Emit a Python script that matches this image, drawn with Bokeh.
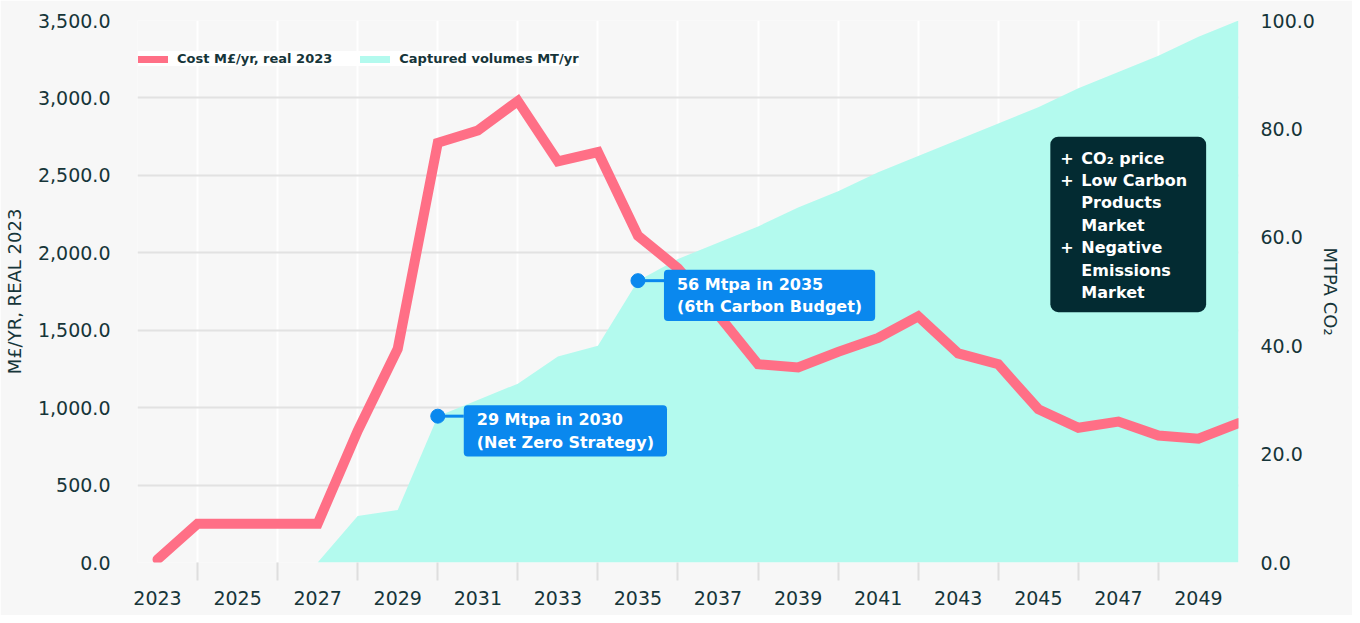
import math
from bokeh.plotting import figure
from bokeh.models import (Range1d, LinearAxis, FixedTicker, NumeralTickFormatter,
                          Legend, LegendItem, Label)
from bokeh.embed import file_html
from bokeh.resources import INLINE

# ---------------- data ----------------
years = list(range(2023, 2051))
cost_m_gbp = [20, 250, 250, 250, 250, 850, 1380, 2710, 2790, 2980, 2590, 2650, 2110, 1900,
              1600, 1280, 1260, 1360, 1450, 1590, 1350, 1280, 990, 870, 910, 820, 800, 900]
captured_mt = [0, 0, 0, 0, 0, 8.6, 9.7, 27, 30, 33, 38, 40, 52, 56,
               59, 62, 65.5, 68.5, 72, 75, 78, 81, 84, 87.5, 90.5, 93.5, 97, 100]
x_label_years = list(range(2023, 2050, 2))
x_tick_years = list(range(2024, 2050, 2))
left_ticks = list(range(0, 3501, 500))
right_ticks = list(range(0, 101, 20))
callout_years = [2030, 2035]
callout_texts = ["29 Mtpa in 2030\n(Net Zero Strategy)", "56 Mtpa in 2035\n(6th Carbon Budget)"]
box_text = "CO\u2082 price\nLow Carbon\nProducts\nMarket\nNegative\nEmissions\nMarket"
bullets = "+\n+\n \n \n+\n \n "

# ---------------- style ----------------
BG = "#f7f7f7"
PINK = "#ff6f86"
AQUA = "#b3faee"
BLUE = "#0a88ee"
DARK = "#032b32"
TEXT = "#163539"
FONT = "DejaVu Sans"

p = figure(width=1352, height=615, x_range=Range1d(2022.5, 2050), y_range=Range1d(0, 3500),
           output_backend="svg", toolbar_location=None,
           min_border_left=137, min_border_right=114, min_border_top=20, min_border_bottom=53,
           background_fill_color=BG, border_fill_color=BG, outline_line_color=None)
p.extra_y_ranges = {"right": Range1d(0, 100)}

# area + line
p.varea(x=years, y1=[0] * len(years), y2=captured_mt, fill_color=AQUA, y_range_name="right")
p.line(x=years, y=cost_m_gbp, line_color=PINK, line_width=10, line_join="miter", line_cap="round")

# callouts
cy = [captured_mt[years.index(y)] for y in callout_years]
p.segment(x0=callout_years, y0=cy, x1=[y + 0.65 for y in callout_years], y1=cy,
          line_color=BLUE, line_width=3, y_range_name="right")
p.scatter(x=callout_years, y=cy, size=14, color=BLUE, y_range_name="right")
for yr, val, txt in zip(callout_years, cy, callout_texts):
    p.add_layout(Label(x=yr, y=val, y_range_name="right", x_offset=26, y_offset=11, text=txt,
                       text_font=FONT, text_font_style="bold", text_font_size="16px",
                       text_color="white", text_align="left", text_baseline="top",
                       text_line_height=1.18, background_fill_color=BLUE,
                       padding=dict(left=13, right=13, top=5, bottom=5), border_radius=4))

p.add_layout(Label(x=2045.3, y=2750, text=box_text, text_font=FONT, text_font_style="bold",
                   text_font_size="16px", text_color="white", text_align="left",
                   text_baseline="top", text_line_height=1.18, background_fill_color=DARK,
                   padding=dict(left=31, right=19, top=12, bottom=10), border_radius=8))
p.add_layout(Label(x=2045.3, y=2750, x_offset=10, y_offset=-12, text=bullets, text_font=FONT,
                   text_font_style="bold", text_font_size="16px", text_color="white",
                   text_align="left", text_baseline="top", text_line_height=1.18))

# axes
xa = p.xaxis[0]
xa.ticker = FixedTicker(ticks=x_label_years, minor_ticks=x_tick_years)
xa.major_tick_line_color = None
xa.major_tick_out = 0
xa.major_tick_in = 0
xa.minor_tick_line_color = "#dedede"
xa.minor_tick_line_width = 2
xa.minor_tick_out = 18
xa.minor_tick_in = 0
xa.axis_line_color = None
xa.major_label_standoff = 10

ya = p.yaxis[0]
ya.ticker = FixedTicker(ticks=left_ticks)
ya.formatter = NumeralTickFormatter(format="0,0.0")
ya.axis_label = "M£/YR, REAL 2023"
ya.axis_label_standoff = 10
ya.major_label_standoff = 27

ra = LinearAxis(y_range_name="right", ticker=FixedTicker(ticks=right_ticks),
                formatter=NumeralTickFormatter(format="0.0"), axis_label="MTPA CO\u2082",
                axis_label_standoff=2, major_label_standoff=22)
p.add_layout(ra, "right")

for ax in (xa, ya, ra):
    ax.major_label_text_font = FONT
    ax.major_label_text_font_size = "19px"
    ax.major_label_text_color = TEXT
    ax.axis_label_text_font = FONT
    ax.axis_label_text_font_size = "18px"
    ax.axis_label_text_font_style = "normal"
    ax.axis_label_text_color = TEXT
for ax in (ya, ra):
    ax.major_tick_line_color = None
    ax.minor_tick_line_color = None
    ax.axis_line_color = None
    ax.major_tick_out = 0

p.xgrid.ticker = FixedTicker(ticks=x_tick_years)
p.xgrid.grid_line_color = "white"
p.xgrid.grid_line_width = 2
p.ygrid.grid_line_color = "#e2e2e2"
p.ygrid.grid_line_width = 2

# legend
r1 = p.line(x=[math.nan], y=[math.nan], line_color=PINK, line_width=7, line_cap="round")
r2 = p.line(x=[math.nan], y=[math.nan], line_color=AQUA, line_width=7, line_cap="round")
legend = Legend(items=[LegendItem(label="Cost M£/yr, real 2023", renderers=[r1]),
                       LegendItem(label="Captured volumes MT/yr", renderers=[r2])],
                location=(1, 496), orientation="horizontal", padding=8, margin=0,
                spacing=28, glyph_width=30, glyph_height=14, label_height=14,
                label_standoff=9, background_fill_color="white", background_fill_alpha=1,
                border_line_color=None, label_text_font=FONT, label_text_font_style="bold",
                label_text_font_size="13px", label_text_color=TEXT)
p.add_layout(legend)

open("out.html", "w").write(file_html(p, INLINE))
